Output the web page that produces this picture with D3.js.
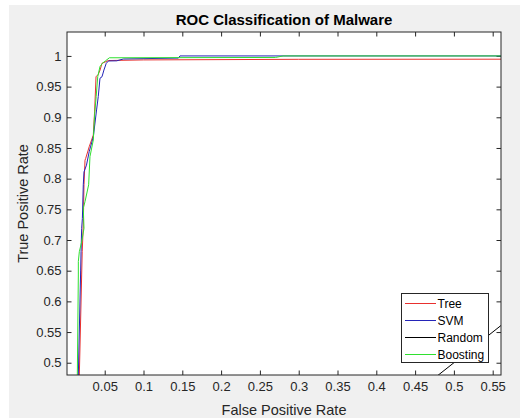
<!DOCTYPE html>
<html lang="en">
<head>
<meta charset="UTF-8">
<title>ROC Classification of Malware</title>
<script src="https://d3js.org/d3.v7.min.js"></script>
<style>
    body {
        margin: 0;
        padding: 0;
        background: #ffffff;
        font-family: 'Liberation Sans', Arial, sans-serif;
    }
    svg {
        display: block;
    }
    .axis text {
        font-family: 'Liberation Sans', Arial, sans-serif;
        font-size: 13px;
        fill: #262626;
    }
    .axis line {
        stroke: #262626;
    }
    .axis path {
        display: none;
    }
</style>
</head>
<body>
<div id="chart"></div>
<script>
    // ROC curve points
    const treeFpr = [0, 0.012, 0.0173, 0.0203, 0.021, 0.0224, 0.0233, 0.0246, 0.0255, 0.030, 0.0353, 0.037, 0.0388, 0.0417, 0.044, 0.0465, 0.0504, 0.0546, 0.10, 0.30, 1];
    const treeTpr = [0, 0.35, 0.48, 0.643, 0.681, 0.7245, 0.79, 0.830, 0.833, 0.852, 0.871, 0.910, 0.966, 0.970, 0.977, 0.988, 0.990, 0.9925, 0.9935, 0.9945, 0.995];

    const svmFpr = [0, 0.010, 0.016, 0.019, 0.0195, 0.0203, 0.0212, 0.0224, 0.0233, 0.0265, 0.030, 0.0353, 0.0395, 0.0417, 0.0439, 0.0465, 0.049, 0.052, 0.055, 0.0654, 0.074, 0.145, 0.147, 1];
    const svmTpr = [0, 0.30, 0.48, 0.651, 0.681, 0.719, 0.735, 0.79, 0.811, 0.822, 0.844, 0.868, 0.912, 0.934, 0.9636, 0.966, 0.977, 0.988, 0.9918, 0.992, 0.995, 0.9965, 1.0, 1.0];

    const randomFpr = [0, 1];
    const randomTpr = [0, 1];

    const boostFpr = [0, 0.009, 0.0147, 0.016, 0.016, 0.0173, 0.0203, 0.0233, 0.0224, 0.0246, 0.0293, 0.031, 0.0353, 0.037, 0.039, 0.041, 0.0439, 0.047, 0.051, 0.056, 0.27, 0.28, 1];
    const boostTpr = [0, 0.30, 0.48, 0.643, 0.665, 0.681, 0.697, 0.719, 0.752, 0.7625, 0.79, 0.836, 0.863, 0.905, 0.934, 0.966, 0.9826, 0.988, 0.992, 0.997, 0.9975, 1.0, 1.0];

    const seriesNames = ["Tree", "SVM", "Random", "Boosting"];
    const seriesColors = ["#e8302e", "#2424b8", "#000000", "#2fe02f"];

    const xTicks = [0.05, 0.1, 0.15, 0.2, 0.25, 0.3, 0.35, 0.4, 0.45, 0.5, 0.55];
    const yTicks = [0.5, 0.55, 0.6, 0.65, 0.7, 0.75, 0.8, 0.85, 0.9, 0.95, 1];

    const width = 520, height = 418;
    const axLeft = 67, axRight = 501, axTop = 32, axBottom = 375;

    const svg = d3.select("#chart").append("svg")
        .attr("width", width)
        .attr("height", height);

    // figure background (screenshot has a thin white border top/left)
    svg.append("rect")
        .attr("x", 9).attr("y", 5)
        .attr("width", width - 9).attr("height", height - 5)
        .attr("fill", "#f0f0f0");

    const x = d3.scaleLinear().domain([0.0014, 0.5607]).range([axLeft, axRight]);
    const y = d3.scaleLinear().domain([0.48, 1.039]).range([axBottom, axTop]);

    svg.append("rect")
        .attr("x", axLeft).attr("y", axTop)
        .attr("width", axRight - axLeft).attr("height", axBottom - axTop)
        .attr("fill", "#ffffff");

    svg.append("clipPath").attr("id", "clip")
        .append("rect")
        .attr("x", axLeft).attr("y", axTop)
        .attr("width", axRight - axLeft).attr("height", axBottom - axTop);

    const fmt = v => String(+v.toFixed(2));

    // axes with inward ticks
    svg.append("g").attr("class", "axis")
        .attr("transform", `translate(0,${axBottom})`)
        .call(d3.axisBottom(x).tickValues(xTicks).tickFormat(fmt).tickSizeInner(-4.5).tickSizeOuter(0).tickPadding(7));
    svg.append("g").attr("class", "axis")
        .attr("transform", `translate(0,${axTop})`)
        .call(d3.axisTop(x).tickValues(xTicks).tickFormat("").tickSizeInner(-4.5).tickSizeOuter(0));
    svg.append("g").attr("class", "axis")
        .attr("transform", `translate(${axLeft},0)`)
        .call(d3.axisLeft(y).tickValues(yTicks).tickFormat(fmt).tickSizeInner(-4.5).tickSizeOuter(0).tickPadding(5.5));
    svg.append("g").attr("class", "axis")
        .attr("transform", `translate(${axRight},0)`)
        .call(d3.axisRight(y).tickValues(yTicks).tickFormat("").tickSizeInner(-4.5).tickSizeOuter(0));

    const series = [
        { fpr: treeFpr, tpr: treeTpr },
        { fpr: svmFpr, tpr: svmTpr },
        { fpr: randomFpr, tpr: randomTpr },
        { fpr: boostFpr, tpr: boostTpr }
    ];

    const line = d3.line()
        .x(d => x(d[0]))
        .y(d => y(d[1]));

    const plot = svg.append("g").attr("clip-path", "url(#clip)");
    series.forEach((s, i) => {
        plot.append("path")
            .datum(s.fpr.map((f, j) => [f, s.tpr[j]]))
            .attr("fill", "none")
            .attr("stroke", seriesColors[i])
            .attr("stroke-width", 1)
            .attr("d", line);
    });

    // box
    svg.append("rect")
        .attr("x", axLeft).attr("y", axTop)
        .attr("width", axRight - axLeft).attr("height", axBottom - axTop)
        .attr("fill", "none")
        .attr("stroke", "#262626")
        .attr("stroke-width", 1);

    // legend
    const legend = svg.append("g");
    legend.append("rect")
        .attr("x", 401.5).attr("y", 293.5)
        .attr("width", 87).attr("height", 69)
        .attr("fill", "#ffffff")
        .attr("stroke", "#262626")
        .attr("stroke-width", 1);
    seriesNames.forEach((name, i) => {
        const cy = 303.5 + i * 17;
        legend.append("line")
            .attr("x1", 405).attr("x2", 436)
            .attr("y1", cy).attr("y2", cy)
            .attr("stroke", seriesColors[i])
            .attr("stroke-width", 1);
        legend.append("text")
            .attr("x", 437.5).attr("y", cy)
            .attr("dy", "0.35em")
            .attr("font-size", "12px")
            .attr("fill", "#000000")
            .text(name);
    });

    // labels
    svg.append("text")
        .attr("x", 284).attr("y", 25)
        .attr("text-anchor", "middle")
        .attr("font-size", "15px")
        .attr("font-weight", "bold")
        .attr("fill", "#000000")
        .text("ROC Classification of Malware");

    svg.append("text")
        .attr("x", 284).attr("y", 415)
        .attr("text-anchor", "middle")
        .attr("font-size", "14.5px")
        .attr("fill", "#262626")
        .text("False Positive Rate");

    svg.append("text")
        .attr("transform", `translate(28,${(axTop + axBottom) / 2}) rotate(-90)`)
        .attr("text-anchor", "middle")
        .attr("font-size", "14.5px")
        .attr("fill", "#262626")
        .text("True Positive Rate");
</script>
</body>
</html>
